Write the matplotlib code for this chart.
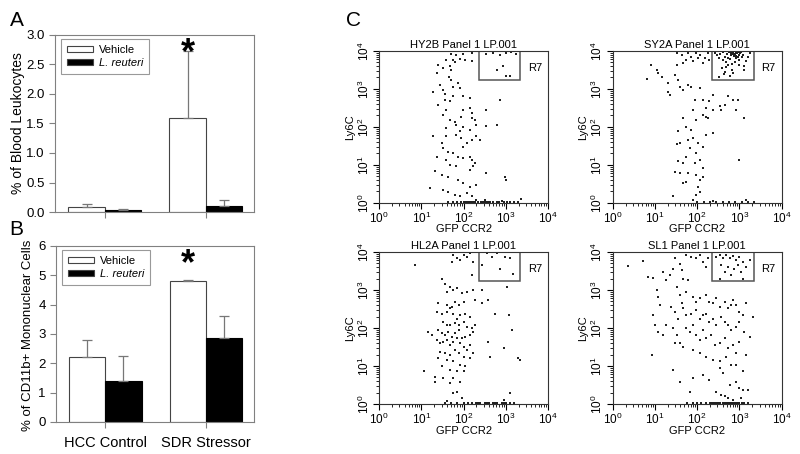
import numpy as np
import matplotlib
matplotlib.use("Agg")
import matplotlib.pyplot as plt
from matplotlib.patches import Rectangle
from matplotlib.ticker import LogLocator, FixedLocator, NullFormatter

plt.rcParams['font.family'] = ['Liberation Sans', 'DejaVu Sans']
plt.rcParams['mathtext.fontset'] = 'custom'
plt.rcParams['mathtext.rm'] = 'Liberation Sans'
plt.rcParams['mathtext.it'] = 'Liberation Sans:italic'

# ---- bar data ----
groups = ["HCC Control", "SDR Stressor"]
series = ["Vehicle", "L. reuteri"]
blood_vehicle = [0.08, 1.60]
blood_vehicle_err = [0.05, 1.12]
blood_reuteri = [0.03, 0.10]
blood_reuteri_err = [0.02, 0.11]
cd11b_vehicle = [2.20, 4.80]
cd11b_vehicle_err = [0.60, 0.03]
cd11b_reuteri = [1.40, 2.85]
cd11b_reuteri_err = [0.85, 0.75]

# ---- flow cytometry dot plots (log10 values) ----
hy2b_x = [1.70, 1.83, 1.99, 2.19, 1.59, 1.75, 1.79, 1.91, 2.03, 2.19, 1.40, 1.51, 1.67, 1.71, 1.36, 1.66,
          1.71, 1.44, 1.75, 1.28, 1.51, 1.55, 1.87, 1.91, 1.55, 1.67, 1.75, 1.99, 2.15, 1.40, 1.59, 1.99,
          2.15, 2.19, 2.54, 1.51, 1.67, 1.79, 1.95, 2.19, 2.26, 1.59, 1.83, 1.91, 1.99, 2.15, 2.30, 2.54,
          1.28, 1.48, 1.59, 1.83, 1.95, 1.99, 2.07, 2.19, 2.30, 2.38, 1.51, 1.63, 1.75, 1.87, 1.99, 2.15,
          2.19, 2.26, 1.36, 1.59, 1.67, 1.83, 2.15, 2.22, 2.54, 1.33, 1.48, 1.63, 1.87, 1.99, 2.15, 2.30,
          1.63, 1.79, 1.91, 2.07, 2.19, 2.30, 1.20, 1.51, 2.97, 3.01,
          2.54, 2.70, 2.86, 3.01, 2.93, 2.78, 3.01, 3.09, 3.13, 3.25, 2.86, 2.78,
          1.62, 1.75, 1.85, 1.95, 2.00, 2.05, 2.10, 2.20, 2.28, 2.35, 2.42, 2.50, 2.55, 2.62, 2.70, 2.78,
          2.85, 2.95, 3.02, 3.10, 3.20, 3.30, 2.45, 2.58, 2.15, 2.25, 2.50, 2.90, 3.37]
hy2b_y = [3.91, 3.89, 3.91, 3.94, 3.76, 3.75, 3.70, 3.78, 3.76, 3.72, 3.63, 3.54, 3.59, 3.50, 3.41, 3.32,
          3.24, 3.11, 3.04, 2.93, 2.97, 2.87, 3.15, 3.02, 2.71, 2.67, 2.80, 2.80, 2.75, 2.58, 2.45, 2.45,
          2.49, 2.36, 2.45, 2.32, 2.18, 2.14, 2.27, 2.23, 2.18, 1.96, 2.05, 1.88, 2.01, 1.92, 2.05, 2.03,
          1.75, 1.57, 1.75, 1.79, 1.70, 1.48, 1.57, 1.66, 1.75, 1.66, 1.44, 1.35, 1.31, 1.22, 1.18, 1.22,
          1.13, 1.04, 1.22, 1.13, 1.00, 0.96, 0.87, 0.96, 0.78, 0.85, 0.74, 0.69, 0.61, 0.52, 0.43, 0.47,
          0.30, 0.21, 0.17, 0.27, 0.17, 0.08, 0.39, 0.34, 0.69, 0.61,
          3.92, 3.94, 3.89, 3.94, 3.59, 3.50, 3.34, 3.34, 3.96, 3.91, 2.71, 2.05,
          0.03, 0.03, 0.03, 0.03, 0.03, 0.03, 0.03, 0.03, 0.03, 0.03, 0.03, 0.03, 0.03, 0.03, 0.03, 0.03,
          0.03, 0.03, 0.03, 0.03, 0.03, 0.03, 0.03, 0.03, 0.03, 0.03, 0.08, 0.05, 0.10]

sy2a_x = [0.80, 0.90, 1.04, 1.08, 1.16, 1.31, 1.31, 1.35, 1.47, 1.51, 1.51, 1.63, 1.67, 1.74, 1.78, 1.86,
          1.90, 1.98, 2.02, 2.06, 2.14, 2.18, 2.26, 2.29, 1.55, 1.59, 1.67, 1.78, 1.86, 2.06, 1.94, 2.14,
          2.29, 2.22, 2.37, 1.90, 1.67, 1.74, 1.86, 1.98, 2.14, 2.22, 2.26, 2.37, 2.53, 2.57, 2.65, 2.73,
          2.84, 2.96, 2.92, 3.12, 1.55, 1.59, 1.51, 1.78, 1.90, 2.02, 2.14, 2.22, 2.37, 1.82, 1.98, 1.74,
          1.94, 2.06, 2.14, 1.55, 1.67, 1.47, 1.59, 1.78, 1.98, 2.06, 2.14, 1.67, 1.74, 2.02, 2.06, 1.98,
          1.43, 1.90, 2.37, 3.00, 3.16,
          2.42, 2.48, 2.52, 2.55, 2.60, 2.62, 2.65, 2.68, 2.70, 2.72, 2.75, 2.78, 2.80, 2.82, 2.85, 2.88,
          2.90, 2.92, 2.95, 2.98, 3.00, 3.02, 3.05, 3.08, 3.10, 3.15, 3.20, 3.25, 2.58, 2.66, 2.74, 2.83,
          2.87, 2.93, 2.97, 2.79, 2.71, 2.86, 2.91, 2.96, 3.03, 2.63, 2.77, 2.84, 2.89, 2.99, 3.12, 2.52,
          2.69, 2.81,
          2.00, 2.15, 2.30, 2.45, 2.60, 2.75, 2.90, 3.05, 3.20, 3.35]
sy2a_y = [3.26, 3.63, 3.50, 3.41, 3.32, 3.15, 2.93, 2.84, 3.37, 3.63, 3.94, 3.89, 3.68, 3.76, 3.94, 3.85,
          3.72, 3.94, 3.81, 3.89, 3.68, 3.81, 3.94, 3.76, 3.24, 3.06, 2.97, 3.11, 3.06, 3.02, 2.71, 2.71,
          2.67, 2.49, 2.84, 2.45, 2.23, 2.01, 1.92, 2.18, 2.32, 2.27, 2.23, 2.45, 2.54, 2.45, 2.58, 2.80,
          2.71, 2.71, 2.45, 2.23, 1.88, 1.57, 1.54, 1.66, 1.70, 1.57, 1.48, 1.79, 1.83, 1.44, 1.31, 1.22,
          1.04, 1.13, 0.91, 1.09, 1.04, 0.82, 0.78, 0.78, 0.74, 0.61, 0.69, 0.52, 0.56, 0.43, 0.30, 0.21,
          0.17, 0.08, 0.04, 1.13, 0.08,
          3.95, 3.88, 3.80, 3.92, 3.75, 3.98, 3.85, 3.70, 3.93, 3.82, 3.96, 3.78, 3.90, 3.65, 3.97, 3.86,
          3.92, 3.80, 3.95, 3.88, 3.75, 3.94, 3.84, 3.90, 3.60, 3.72, 3.85, 3.95, 3.55, 3.45, 3.62, 3.50,
          3.99, 3.87, 3.97, 3.93, 3.99, 3.91, 3.96, 3.83, 3.98, 3.40, 3.35, 3.42, 3.70, 3.64, 3.50, 3.30,
          3.58, 3.96,
          0.03, 0.03, 0.03, 0.03, 0.03, 0.03, 0.03, 0.03, 0.03, 0.03]

hl2a_x = [0.85, 1.76, 1.84, 2.00, 2.08, 2.15, 2.23, 1.72, 1.92, 2.19, 1.48, 1.56, 1.68, 1.76, 1.60, 1.84,
          1.96, 2.08, 2.23, 2.43, 2.27, 2.43, 2.59, 1.40, 1.60, 1.68, 1.72, 1.80, 1.88, 2.00, 1.48, 1.60,
          1.36, 1.76, 1.84, 1.92, 2.04, 2.15, 1.52, 1.60, 1.68, 1.80, 1.88, 2.00, 2.08, 2.19, 2.27, 1.16,
          1.24, 1.40, 1.48, 1.56, 1.64, 1.72, 1.80, 1.88, 1.96, 2.04, 2.15, 2.23, 1.36, 1.44, 1.52, 1.60,
          1.68, 1.76, 1.84, 1.92, 2.00, 2.08, 2.15, 1.44, 1.56, 1.68, 1.80, 1.88, 2.00, 2.15, 2.23, 1.40,
          1.60, 1.76, 1.92, 2.04, 1.48, 1.68, 1.84, 1.32, 1.52, 1.76, 1.92, 1.68, 2.00, 1.05, 1.32, 1.84,
          1.96, 1.60, 1.76, 2.59, 2.63, 2.75, 2.95, 3.07, 3.14, 3.30, 3.34, 3.10, 2.95, 3.03,
          2.43, 2.67, 2.79, 2.87, 2.99, 3.10, 3.18, 2.55,
          1.55, 1.70, 1.85, 2.00, 2.10, 2.20, 2.30, 2.40, 2.50, 2.60, 2.70, 2.80, 2.90, 3.00, 3.10, 3.20,
          2.35, 2.55, 2.75, 2.95]
hl2a_y = [3.67, 3.93, 3.83, 3.91, 3.87, 3.96, 3.74, 3.74, 3.78, 3.39, 3.30, 3.17, 3.08, 3.00, 2.95, 3.04,
          2.91, 2.95, 3.00, 3.00, 2.73, 2.65, 2.73, 2.65, 2.60, 2.52, 2.56, 2.69, 2.60, 2.69, 2.38, 2.43,
          2.43, 2.38, 2.25, 2.34, 2.38, 2.30, 2.17, 2.08, 2.08, 2.12, 2.08, 2.17, 2.03, 1.99, 2.08, 1.90,
          1.82, 1.95, 1.86, 1.82, 1.90, 1.77, 1.86, 1.95, 1.73, 1.77, 1.82, 1.90, 1.69, 1.60, 1.64, 1.69,
          1.55, 1.64, 1.73, 1.60, 1.51, 1.42, 1.55, 1.38, 1.34, 1.29, 1.42, 1.34, 1.25, 1.21, 1.34, 1.21,
          1.16, 1.12, 1.03, 0.99, 0.99, 0.90, 0.86, 0.72, 0.68, 0.68, 0.59, 0.55, 0.86, 0.86, 0.59, 0.33,
          0.16, 0.07, 0.29, 1.64, 1.25, 2.38, 1.47, 2.34, 1.95, 1.21, 1.16, 0.29, 0.11, 3.08,
          3.65, 3.87, 3.96, 3.56, 3.87, 3.83, 3.43, 3.96,
          0.03, 0.03, 0.03, 0.03, 0.03, 0.03, 0.03, 0.03, 0.03, 0.03, 0.03, 0.03, 0.03, 0.03, 0.03, 0.03,
          0.03, 0.03, 0.03, 0.03]

sl1_x = [0.37, 0.72, 0.84, 0.96, 1.04, 1.08, 1.12, 0.96, 1.00, 1.08, 0.92, 1.19, 1.27, 1.35, 1.43, 1.47,
         1.59, 1.63, 1.74, 1.86, 1.98, 2.06, 2.14, 2.22, 2.26, 1.67, 1.78, 1.51, 1.59, 1.63, 1.74, 1.90,
         1.98, 2.06, 2.22, 2.29, 2.37, 2.45, 2.53, 2.65, 2.73, 2.81, 2.84, 2.92, 3.00, 3.08, 3.16, 3.32,
         1.39, 1.47, 1.55, 1.67, 1.74, 1.86, 1.98, 2.06, 2.14, 2.22, 2.29, 2.37, 2.45, 2.57, 2.65, 2.73,
         2.81, 2.92, 3.00, 3.12, 3.24, 1.27, 1.43, 1.51, 1.59, 1.74, 1.82, 1.90, 1.98, 2.06, 2.14, 2.22,
         2.33, 2.41, 2.53, 2.65, 2.73, 2.84, 2.92, 3.00, 3.16, 1.19, 1.47, 1.67, 1.90, 2.06, 2.22, 2.37,
         2.53, 2.69, 2.81, 2.92, 3.08, 1.43, 1.59, 1.90, 2.14, 2.29, 2.53, 2.61, 2.77, 2.92, 3.00, 3.08,
         3.20, 1.82, 2.45, 2.57, 2.65, 2.73, 2.84, 3.04,
         2.45, 2.53, 2.61, 2.69, 2.77, 2.84, 2.92, 3.00, 3.08, 2.57, 2.73, 2.88, 2.96, 3.04, 3.16, 2.81,
         2.65, 3.24, 2.53, 3.08,
         1.75, 1.90, 2.00, 2.10, 2.20, 2.30, 2.40, 2.50, 2.55, 2.60, 2.65, 2.70, 2.75, 2.80, 2.85, 2.90,
         2.95, 3.00, 3.05, 3.10, 3.20, 2.45, 2.35]
sl1_y = [3.63, 3.76, 3.34, 3.32, 3.00, 2.82, 2.60, 2.34, 2.08, 1.90, 1.29, 3.48, 3.26, 3.39, 3.56, 3.83,
         3.69, 3.52, 3.91, 3.87, 3.83, 3.91, 3.74, 3.61, 3.83, 3.30, 3.26, 3.08, 2.86, 2.65, 2.95, 2.82,
         2.69, 2.78, 2.86, 2.69, 2.65, 2.78, 2.56, 2.69, 2.52, 2.60, 2.73, 2.60, 2.43, 2.34, 2.65, 2.30,
         2.56, 2.43, 2.25, 2.52, 2.34, 2.38, 2.47, 2.25, 2.34, 2.38, 2.17, 2.25, 2.08, 2.30, 2.17, 2.08,
         1.95, 2.03, 2.17, 1.90, 1.77, 2.08, 1.99, 1.82, 1.60, 1.99, 1.90, 2.08, 1.82, 1.69, 1.95, 1.73,
         1.82, 1.55, 1.60, 1.73, 1.47, 1.55, 1.34, 1.64, 1.29, 1.82, 1.60, 1.51, 1.42, 1.34, 1.25, 1.16,
         1.12, 1.25, 1.03, 1.03, 0.86, 0.90, 0.59, 0.68, 0.77, 0.64, 0.94, 0.81, 0.51, 0.59, 0.42, 0.38,
         0.38, 0.33, 0.33, 0.24, 0.20, 0.16, 0.11, 0.16,
         3.87, 3.91, 3.83, 3.93, 3.84, 3.90, 3.78, 3.87, 3.74, 3.65, 3.61, 3.56, 3.65, 3.48, 3.61, 3.39,
         3.48, 3.78, 3.30, 3.30,
         0.03, 0.03, 0.03, 0.03, 0.03, 0.03, 0.03, 0.03, 0.03, 0.03, 0.03, 0.03, 0.03, 0.03, 0.03, 0.03,
         0.03, 0.03, 0.03, 0.03, 0.03, 0.03, 0.03]

plot_titles = ["HY2B Panel 1 LP.001", "SY2A Panel 1 LP.001", "HL2A Panel 1 LP.001", "SL1 Panel 1 LP.001"]
gate_x = [2.36, 3.34]
gate_y = [3.23, 4.0]

fig = plt.figure(figsize=(8, 4.54), dpi=100)

frame_gray = "#808080"


def bar_panel(ax, veh, veh_err, reu, reu_err, ymax, ystep, fmt, ylabel, label_size, star_y, show_names):
    pos = np.arange(len(groups))
    w = 0.36
    ax.bar(pos - w / 2, veh, w, color="white", edgecolor="#444444", linewidth=0.8, label=series[0])
    ax.bar(pos + w / 2, reu, w, color="black", edgecolor="black", linewidth=0.8, label=series[1])
    ax.errorbar(pos - w / 2, veh, yerr=[np.zeros(len(veh)), veh_err], fmt="none",
                ecolor="#777777", elinewidth=0.9, capsize=3.5, capthick=0.9)
    ax.errorbar(pos + w / 2, reu, yerr=[np.zeros(len(reu)), reu_err], fmt="none",
                ecolor="#777777", elinewidth=0.9, capsize=3.5, capthick=0.9)
    ax.set_xlim(-0.49, 1.48)
    ax.set_ylim(0, ymax)
    ticks = np.arange(0, ymax + 1e-9, ystep)
    ax.set_yticks(ticks)
    ax.set_yticklabels([fmt.format(t) for t in ticks], fontsize=9.5)
    ax.set_xticks(pos)
    if show_names:
        ax.set_xticklabels(groups, fontsize=10.5)
    else:
        ax.set_xticklabels([])
    for s in ax.spines.values():
        s.set_color(frame_gray)
        s.set_linewidth(0.8)
    ax.tick_params(colors=frame_gray, labelcolor="black", length=4, width=0.8, direction="out")
    ax.tick_params(axis="x", pad=6)
    ax.set_ylabel(ylabel, fontsize=label_size)
    ax.text(pos[1] - w / 2, star_y, "*", fontsize=26, fontweight="bold", ha="center", va="center")
    leg = ax.legend(loc="upper left", fontsize=8, handlelength=2.4, handleheight=0.5,
                    fancybox=False, edgecolor=frame_gray, borderpad=0.5, labelspacing=0.3,
                    handletextpad=0.5, borderaxespad=0, bbox_to_anchor=(0.03, 0.975))
    leg.get_frame().set_linewidth(0.8)
    leg.get_texts()[1].set_fontstyle("italic")
    for h in leg.legend_handles:
        h.set_edgecolor("#444444")


axA = fig.add_axes([0.069, 0.533, 0.249, 0.390])
bar_panel(axA, blood_vehicle, blood_vehicle_err, blood_reuteri, blood_reuteri_err,
          3.0, 0.5, "{:.1f}", "% of Blood Leukocytes", 10, 2.68, False)
axA.yaxis.set_label_coords(-0.15, 0.5)

axB = fig.add_axes([0.070, 0.0705, 0.248, 0.388])
bar_panel(axB, cd11b_vehicle, cd11b_vehicle_err, cd11b_reuteri, cd11b_reuteri_err,
          6, 1, "{:.0f}", "% of CD11b+ Mononuclear Cells", 9.5, 5.35, True)
axB.yaxis.set_label_coords(-0.11, 0.49)

fig.text(0.012, 0.955, "A", fontsize=15, va="center")
fig.text(0.012, 0.495, "B", fontsize=15, va="center")
fig.text(0.432, 0.955, "C", fontsize=15, va="center")

dot_sets = [(hy2b_x, hy2b_y), (sy2a_x, sy2a_y), (hl2a_x, hl2a_y), (sl1_x, sl1_y)]
boxes = [[0.474, 0.553], [0.766, 0.553], [0.474, 0.110], [0.766, 0.110]]

for (lx, ly), (bx, by), title in zip(dot_sets, boxes, plot_titles):
    ax = fig.add_axes([bx, by, 0.211, 0.335])
    ax.scatter(10 ** np.array(lx), 10 ** np.array(ly), s=0.7, c="#222222", marker="s", linewidths=0)
    ax.set_xscale("log")
    ax.set_yscale("log")
    ax.set_xlim(1, 1e4)
    ax.set_ylim(1, 1e4)
    ax.add_patch(Rectangle((10 ** gate_x[0], 10 ** gate_y[0]),
                           10 ** gate_x[1] - 10 ** gate_x[0], 10 ** gate_y[1] - 10 ** gate_y[0],
                           fill=False, edgecolor="#555555", linewidth=1.1))
    ax.text(10 ** 3.52, 10 ** 3.55, "R7", fontsize=8, va="center", ha="left")
    ax.set_title(title, fontsize=8, pad=2)
    ax.xaxis.set_major_locator(FixedLocator([1, 10, 100, 1000, 10000]))
    ax.yaxis.set_major_locator(FixedLocator([1, 10, 100, 1000, 10000]))
    ax.xaxis.set_minor_locator(LogLocator(base=10, subs=np.arange(2, 10), numticks=10))
    ax.yaxis.set_minor_locator(LogLocator(base=10, subs=np.arange(2, 10), numticks=10))
    ax.xaxis.set_minor_formatter(NullFormatter())
    ax.yaxis.set_minor_formatter(NullFormatter())
    ax.set_xticklabels([r"$10^{%d}$" % i for i in range(5)], fontsize=8.5)
    ax.set_yticklabels([r"$10^{%d}$" % i for i in range(5)], fontsize=8.5, rotation=90, va="center")
    ax.tick_params(which="major", length=4, width=0.8, direction="out", pad=1.5)
    ax.tick_params(which="minor", length=2, width=0.6, direction="out")
    for s in ax.spines.values():
        s.set_linewidth(0.8)
        s.set_color("#333333")
    ax.set_xlabel("GFP CCR2", fontsize=8, labelpad=-1)
    ax.set_ylabel("Ly6C", fontsize=8, labelpad=1)

fig.savefig("out.png", dpi=100)
